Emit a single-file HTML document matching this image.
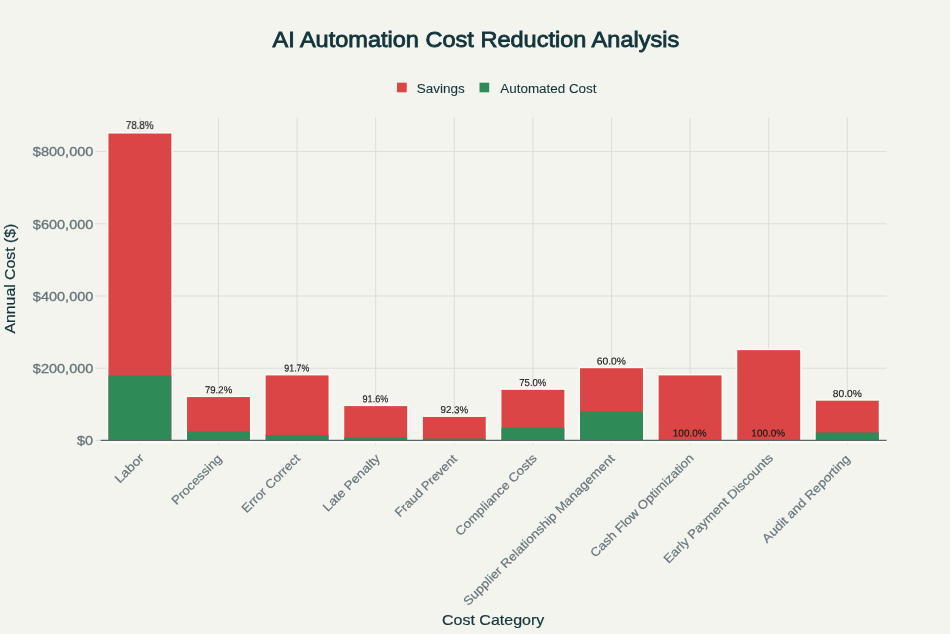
<!DOCTYPE html>
<html><head><meta charset="utf-8"><title>AI Automation Cost Reduction Analysis</title>
<style>html,body{margin:0;padding:0;background:#F4F4EF;}body{width:950px;height:634px;overflow:hidden;font-family:"Liberation Sans",sans-serif;}svg{display:block}</style>
</head><body>
<svg width="950" height="634" viewBox="0 0 950 634" font-family="Liberation Sans, sans-serif">
<rect width="950" height="634" fill="#F4F4EF"/>
<g stroke="#DDDDD7" stroke-width="1">
<line x1="139.90" y1="117.4" x2="139.90" y2="445.4"/>
<line x1="218.50" y1="117.4" x2="218.50" y2="445.4"/>
<line x1="297.10" y1="117.4" x2="297.10" y2="445.4"/>
<line x1="375.70" y1="117.4" x2="375.70" y2="445.4"/>
<line x1="454.30" y1="117.4" x2="454.30" y2="445.4"/>
<line x1="532.90" y1="117.4" x2="532.90" y2="445.4"/>
<line x1="611.50" y1="117.4" x2="611.50" y2="445.4"/>
<line x1="690.10" y1="117.4" x2="690.10" y2="445.4"/>
<line x1="768.70" y1="117.4" x2="768.70" y2="445.4"/>
<line x1="847.30" y1="117.4" x2="847.30" y2="445.4"/>
<line x1="95.60" y1="368.20" x2="886.60" y2="368.20"/>
<line x1="95.60" y1="296.00" x2="886.60" y2="296.00"/>
<line x1="95.60" y1="223.80" x2="886.60" y2="223.80"/>
<line x1="95.60" y1="151.60" x2="886.60" y2="151.60"/>
<line x1="95.60" y1="440.40" x2="100.60" y2="440.40"/>
</g>
<rect x="108.46" y="133.55" width="62.88" height="308.35" fill="none" stroke="#FBFBF8" stroke-width="3.2"/>
<rect x="187.06" y="397.08" width="62.88" height="44.82" fill="none" stroke="#FBFBF8" stroke-width="3.2"/>
<rect x="265.66" y="375.42" width="62.88" height="66.48" fill="none" stroke="#FBFBF8" stroke-width="3.2"/>
<rect x="344.26" y="406.10" width="62.88" height="35.80" fill="none" stroke="#FBFBF8" stroke-width="3.2"/>
<rect x="422.86" y="416.94" width="62.88" height="24.96" fill="none" stroke="#FBFBF8" stroke-width="3.2"/>
<rect x="501.46" y="389.86" width="62.88" height="52.04" fill="none" stroke="#FBFBF8" stroke-width="3.2"/>
<rect x="580.06" y="368.20" width="62.88" height="73.70" fill="none" stroke="#FBFBF8" stroke-width="3.2"/>
<rect x="658.66" y="375.42" width="62.88" height="66.48" fill="none" stroke="#FBFBF8" stroke-width="3.2"/>
<rect x="737.26" y="350.15" width="62.88" height="91.75" fill="none" stroke="#FBFBF8" stroke-width="3.2"/>
<rect x="815.86" y="400.69" width="62.88" height="41.21" fill="none" stroke="#FBFBF8" stroke-width="3.2"/>
<rect x="100.60" y="440.40" width="786.00" height="2.2" fill="#FAFAF6"/>
<rect x="108.46" y="133.55" width="62.88" height="306.85" fill="#DB4545"/>
<rect x="108.46" y="375.42" width="62.88" height="64.98" fill="#2E8B57"/>
<rect x="187.06" y="397.08" width="62.88" height="43.32" fill="#DB4545"/>
<rect x="187.06" y="431.38" width="62.88" height="9.02" fill="#2E8B57"/>
<rect x="265.66" y="375.42" width="62.88" height="64.98" fill="#DB4545"/>
<rect x="265.66" y="434.98" width="62.88" height="5.42" fill="#2E8B57"/>
<rect x="344.26" y="406.10" width="62.88" height="34.30" fill="#DB4545"/>
<rect x="344.26" y="437.51" width="62.88" height="2.89" fill="#2E8B57"/>
<rect x="422.86" y="416.94" width="62.88" height="23.46" fill="#DB4545"/>
<rect x="422.86" y="438.59" width="62.88" height="1.81" fill="#2E8B57"/>
<rect x="501.46" y="389.86" width="62.88" height="50.54" fill="#DB4545"/>
<rect x="501.46" y="427.76" width="62.88" height="12.63" fill="#2E8B57"/>
<rect x="580.06" y="368.20" width="62.88" height="72.20" fill="#DB4545"/>
<rect x="580.06" y="411.52" width="62.88" height="28.88" fill="#2E8B57"/>
<rect x="658.66" y="375.42" width="62.88" height="64.98" fill="#DB4545"/>
<rect x="737.26" y="350.15" width="62.88" height="90.25" fill="#DB4545"/>
<rect x="815.86" y="400.69" width="62.88" height="39.71" fill="#DB4545"/>
<rect x="815.86" y="432.46" width="62.88" height="7.94" fill="#2E8B57"/>
<line x1="100.60" y1="440.40" x2="886.60" y2="440.40" stroke="#5A6468" stroke-width="1.3"/>
<rect x="397" y="82.7" width="9.7" height="9.6" fill="#DB4545"/>
<rect x="479.5" y="82.7" width="9.7" height="9.6" fill="#2E8B57"/>
<g id="txt" style="opacity:0.999">
<text transform="translate(139.76,129.05) rotate(0.05) scale(0.9735,1)" font-size="10.1" fill="#171919" stroke="#171919" stroke-width="0.15" text-anchor="middle">78.8%</text>
<text transform="translate(218.55,393.28) rotate(0.05) scale(0.9517,1)" font-size="10.1" fill="#171919" stroke="#171919" stroke-width="0.15" text-anchor="middle">79.2%</text>
<text transform="translate(296.83,371.62) rotate(0.05) scale(0.8740,1)" font-size="10.1" fill="#171919" stroke="#171919" stroke-width="0.15" text-anchor="middle">91.7%</text>
<text transform="translate(375.45,402.30) rotate(0.05) scale(0.9024,1)" font-size="10.1" fill="#171919" stroke="#171919" stroke-width="0.15" text-anchor="middle">91.6%</text>
<text transform="translate(454.32,413.13) rotate(0.05) scale(0.9688,1)" font-size="10.1" fill="#171919" stroke="#171919" stroke-width="0.15" text-anchor="middle">92.3%</text>
<text transform="translate(532.82,386.06) rotate(0.05) scale(0.9449,1)" font-size="10.1" fill="#171919" stroke="#171919" stroke-width="0.15" text-anchor="middle">75.0%</text>
<text transform="translate(611.35,364.40) rotate(0.05) scale(1.0231,1)" font-size="10.1" fill="#171919" stroke="#171919" stroke-width="0.15" text-anchor="middle">60.0%</text>
<text transform="translate(689.65,436.60) rotate(0.05) scale(0.9807,1)" font-size="10.1" fill="#171919" stroke="#171919" stroke-width="0.15" text-anchor="middle">100.0%</text>
<text transform="translate(768.18,436.60) rotate(0.05) scale(0.9833,1)" font-size="10.1" fill="#171919" stroke="#171919" stroke-width="0.15" text-anchor="middle">100.0%</text>
<text transform="translate(847.33,396.89) rotate(0.05) scale(1.0143,1)" font-size="10.1" fill="#171919" stroke="#171919" stroke-width="0.15" text-anchor="middle">80.0%</text>
<text transform="translate(84.96,445.20) rotate(0) scale(1.1829,1)" font-size="12.3" fill="#66747A" stroke="#66747A" stroke-width="0.3" text-anchor="middle">$0</text>
<text transform="translate(63.10,373.00) rotate(0) scale(1.1825,1)" font-size="12.3" fill="#66747A" stroke="#66747A" stroke-width="0.3" text-anchor="middle">$200,000</text>
<text transform="translate(63.10,300.80) rotate(0) scale(1.1825,1)" font-size="12.3" fill="#66747A" stroke="#66747A" stroke-width="0.3" text-anchor="middle">$400,000</text>
<text transform="translate(63.10,228.60) rotate(0) scale(1.1825,1)" font-size="12.3" fill="#66747A" stroke="#66747A" stroke-width="0.3" text-anchor="middle">$600,000</text>
<text transform="translate(63.10,156.40) rotate(0) scale(1.1825,1)" font-size="12.3" fill="#66747A" stroke="#66747A" stroke-width="0.3" text-anchor="middle">$800,000</text>
<text transform="translate(132.19,471.32) rotate(-45) scale(1.1384,1)" font-size="12.2" fill="#66747A" stroke="#66747A" stroke-width="0.2" text-anchor="middle">Labor</text>
<text transform="translate(199.51,482.45) rotate(-45) scale(1.0773,1)" font-size="12.2" fill="#66747A" stroke="#66747A" stroke-width="0.2" text-anchor="middle">Processing</text>
<text transform="translate(273.76,486.37) rotate(-45) scale(1.0888,1)" font-size="12.2" fill="#66747A" stroke="#66747A" stroke-width="0.2" text-anchor="middle">Error Correct</text>
<text transform="translate(354.25,485.65) rotate(-45) scale(1.1068,1)" font-size="12.2" fill="#66747A" stroke="#66747A" stroke-width="0.2" text-anchor="middle">Late Penalty</text>
<text transform="translate(428.80,488.64) rotate(-45) scale(1.0609,1)" font-size="12.2" fill="#66747A" stroke="#66747A" stroke-width="0.2" text-anchor="middle">Fraud Prevent</text>
<text transform="translate(498.92,497.71) rotate(-45) scale(1.1057,1)" font-size="12.2" fill="#66747A" stroke="#66747A" stroke-width="0.2" text-anchor="middle">Compliance Costs</text>
<text transform="translate(541.79,532.74) rotate(-45) scale(1.0961,1)" font-size="12.2" fill="#66747A" stroke="#66747A" stroke-width="0.2" text-anchor="middle">Supplier Relationship Management</text>
<text transform="translate(644.95,508.46) rotate(-45) scale(1.0899,1)" font-size="12.2" fill="#66747A" stroke="#66747A" stroke-width="0.2" text-anchor="middle">Cash Flow Optimization</text>
<text transform="translate(721.04,511.35) rotate(-45) scale(1.0919,1)" font-size="12.2" fill="#66747A" stroke="#66747A" stroke-width="0.2" text-anchor="middle">Early Payment Discounts</text>
<text transform="translate(808.97,501.52) rotate(-45) scale(1.0993,1)" font-size="12.2" fill="#66747A" stroke="#66747A" stroke-width="0.2" text-anchor="middle">Audit and Reporting</text>
<text transform="translate(475.83,46.60) rotate(0) scale(1.0419,1)" font-size="22.6" fill="#13343B" stroke="#13343B" stroke-width="0.85" text-anchor="middle">AI Automation Cost Reduction Analysis</text>
<text transform="translate(493.14,624.90) rotate(0) scale(1.0968,1)" font-size="14.6" fill="#13343B" stroke="#13343B" stroke-width="0.2" text-anchor="middle">Cost Category</text>
<text transform="translate(15.30,278.57) rotate(-90) scale(1.0846,1)" font-size="14.6" fill="#13343B" stroke="#13343B" stroke-width="0.2" text-anchor="middle">Annual Cost ($)</text>
<text transform="translate(440.77,92.60) rotate(0) scale(1.0146,1)" font-size="13.3" fill="#13343B" stroke="#13343B" stroke-width="0.1" text-anchor="middle">Savings</text>
<text transform="translate(548.39,92.60) rotate(0) scale(1.0093,1)" font-size="13.3" fill="#13343B" stroke="#13343B" stroke-width="0.1" text-anchor="middle">Automated Cost</text>
</g>
</svg>
</body></html>
